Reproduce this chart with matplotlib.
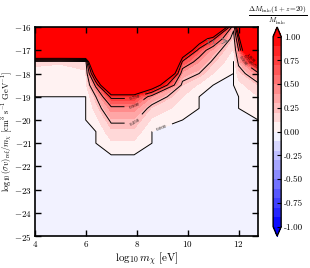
import numpy as np
import matplotlib
matplotlib.use('Agg')
import matplotlib.pyplot as plt

plt.rcParams['font.family'] = 'serif'
plt.rcParams['font.serif'] = ['cmr10', 'DejaVu Serif']
plt.rcParams['mathtext.fontset'] = 'cm'
plt.rcParams['axes.formatter.use_mathtext'] = True
plt.rcParams['axes.unicode_minus'] = True

# grid nodes (log10 m_chi [eV], log10 <sigma v>/m)
log_m = [4, 5, 6, 6.4, 7, 7.9, 8.6, 9.8, 10.45, 11.0, 11.8, 12.0, 12.77]
log_sv = [-25, -22, -21.5, -21, -20.5, -20, -19.5, -19, -18.5, -18, -17.5, -17, -16.5, -16]

# Delta M_halo / M_halo, one row per log_sv value (bottom -> top)
frac = [
    [0,    0,    0,    0,    0,    0,    0,    0,    0,    0,    0,    0,    0],     # -25
    [0,    0,    0,    0,    0,    0,    0,    0,    0,    0,    0,    0,    0],     # -22
    [0,    0,    0,    0,    0,    0,    0,    0,    0,    0,    0,    0,    0],     # -21.5
    [0,    0,    0,    0,    0.08, 0.08, 0,    0,    0,    0,    0,    0,    0],     # -21
    [0,    0,    0,    0,    0.17, 0.17, 0,    0,    0,    0,    0,    0,    0],     # -20.5
    [0,    0,    0,    0.06, 0.28, 0.28, 0.08, 0,    0,    0,    0,    0,    0],     # -20
    [0,    0,    0,    0.14, 0.45, 0.45, 0.18, 0.05, 0,    0,    0,    0,    0.05],  # -19.5
    [0,    0,    0,    0.25, 0.8,  0.8,  0.4,  0.1,  0,    0,    0,    0,    0.1],   # -19
    [0.05, 0.05, 0.06, 0.55, 2,    2,    1.3,  0.2,  0.08, 0,    0,    0.06, 0.2],   # -18.5
    [0.07, 0.06, 0.08, 1.3,  4,    4,    3,    0.35, 0.25, 0.1,  0,    0.15, 0.45],  # -18
    [0.12, 0.11, 0.15, 3,    5,    5,    5,    0.7,  0.4,  0.22, 0,    0.3,  1.2],   # -17.5
    [3,    3,    3,    5,    5,    5,    5,    1.5,  0.65, 0.35, 0.08, 0.5,  3],     # -17
    [5,    5,    5,    5,    5,    5,    5,    3,    1.3,  0.8,  0.15, 0.8,  5],     # -16.5
    [5,    5,    5,    5,    5,    5,    5,    5,    3,    2.5,  0.3,  1.5,  5],     # -16
]

line_levels = [0, 0.25, 0.5, 0.75, 1.0]
cbar_ticks = [-1.0, -0.75, -0.5, -0.25, 0.0, 0.25, 0.5, 0.75, 1.0]

X, Y = np.meshgrid(log_m, log_sv)
Z = np.array(frac)

fig = plt.figure(figsize=(3.10, 2.68), dpi=100)
ax = fig.add_axes([0.112, 0.119, 0.721, 0.780])
cax = fig.add_axes([0.881, 0.119, 0.026, 0.780])

cf = ax.contourf(X, Y, Z, levels=np.linspace(-1, 1, 21), cmap='bwr',
                 vmin=-1, vmax=1, extend='both')
cs = ax.contour(X, Y, Z, levels=line_levels, colors='k', linewidths=0.7)
ax.clabel(cs, fmt='%.3f', fontsize=3.5, inline=True,
          manual=[(7.95, -19.05), (7.95, -19.43), (7.95, -20.12), (9.0, -20.35),
                  (12.1, -17.5), (12.3, -17.4), (12.5, -17.3), (12.65, -17.2)])

ax.text(10.7, -16.65, r'$\chi\chi$', color='0.45', fontsize=6, va='center')
ax.annotate('', xy=(11.7, -16.6), xytext=(11.3, -16.6),
            arrowprops=dict(arrowstyle='->', color='0.45', lw=0.6))

ax.set_xlim(4, 12.77)
ax.set_ylim(-25, -16)
ax.set_xticks([4, 6, 8, 10, 12])
ax.set_yticks(range(-25, -15))
ax.tick_params(direction='in', top=True, right=True, length=4, width=1,
               labelsize=6.5, pad=2)
for s in ax.spines.values():
    s.set_linewidth(1.2)
ax.set_xlabel(r'$\log_{10} m_\chi\ [{\rm eV}]$', fontsize=8, labelpad=1)
ax.set_ylabel(r'$\log_{10}(\sigma v)_{\rm ref}/m_\chi\ [{\rm cm^3\ s^{-1}\ GeV^{-1}}]$',
              fontsize=6)
ax.yaxis.set_label_coords(-0.086, 0.5)

cb = fig.colorbar(cf, cax=cax, ticks=cbar_ticks, format='%.2f')
cb.ax.tick_params(direction='in', length=3, width=0.8, labelsize=6.5, pad=2)
cb.outline.set_linewidth(1.0)
cb.ax.set_title(r'$\frac{\Delta M_{\rm halo}(1+z\!=\!20)}{M_{\rm halo}}$', fontsize=7.5, pad=6)

fig.savefig('out.png', dpi=100)
